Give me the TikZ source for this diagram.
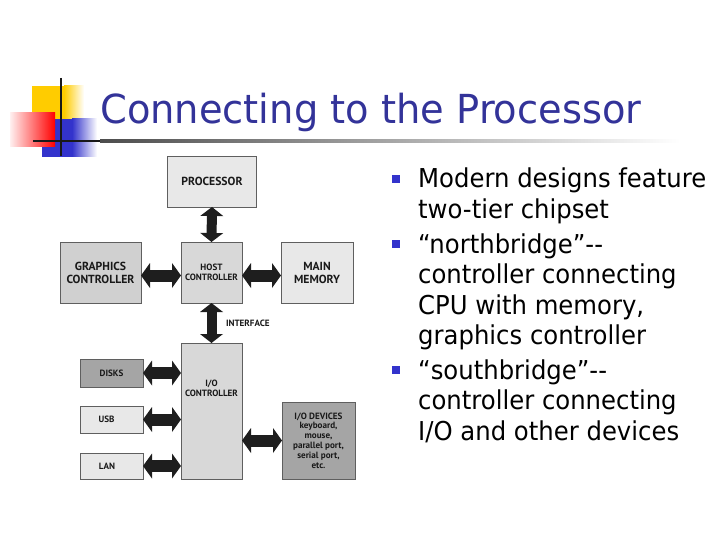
\documentclass[tikz,border=0pt]{standalone}
\usepackage{fontspec}
\setmainfont{DejaVu Sans}
\newfontfamily\titlefont[FakeStretch=0.96]{DejaVu Sans}
\newfontfamily\bodyfont[FakeStretch=0.936]{DejaVu Sans}
\newfontfamily\diafont{PT Sans}
\usetikzlibrary{arrows.meta}
\definecolor{titleblue}{RGB}{51,51,153}
\definecolor{bulletblue}{RGB}{51,51,204}
\definecolor{decoyellow}{RGB}{255,204,0}
\definecolor{decoblue}{RGB}{51,51,204}
\definecolor{decored}{RGB}{255,0,0}
\definecolor{arrowc}{RGB}{30,30,30}
\definecolor{boxline}{RGB}{95,95,95}
\definecolor{gA}{RGB}{232,232,232}
\definecolor{gB}{RGB}{216,216,216}
\definecolor{gC}{RGB}{208,208,208}
\definecolor{gD}{RGB}{165,165,165}
\newcommand\dgmbig{\diafont\bfseries\fontsize{11.7}{13}\selectfont}
\newcommand\dgmsmall{\diafont\bfseries\fontsize{9.1}{9.8}\selectfont}
\begin{document}
\begin{tikzpicture}[x=1pt,y=-1pt,
  box/.style={draw=boxline, line width=0.8pt, inner sep=0pt, outer sep=0pt, align=center, text=black!90},
  txt/.style={inner sep=0pt, outer sep=0pt, align=center, text=black!90},
  varrow/.style={draw=arrowc, line width=10pt, {Triangle[width=23pt,length=9pt,line width=0pt]}-{Triangle[width=23pt,length=9pt,line width=0pt]}},
  harrow/.style={draw=arrowc, line width=12pt, {Triangle[width=25pt,length=9pt,line width=0pt]}-{Triangle[width=25pt,length=9pt,line width=0pt]}},
  bodyline/.style={anchor=base west, inner sep=0pt, font=\bodyfont\fontsize{26}{30}\selectfont, text=black},
  bulletsq/.style={fill=bulletblue, inner sep=0pt, minimum size=8.5pt}
]
\useasboundingbox (0,0) rectangle (720,540);
% title decoration
\fill[decoyellow] (32,86) rectangle (64,119);
\shade[left color=decoyellow, right color=white] (64,86) rectangle (84,119);
\fill[decoblue] (42,119) rectangle (72,157);
\shade[left color=decoblue, right color=white] (72,119) rectangle (97,157);
\shade[left color=red!6, right color=decored] (10,113) rectangle (55,147);
\draw[line width=2.5pt, black!90] (61,78) -- (61,156);
\draw[line width=2.5pt, black!90] (33,141) -- (100,141);
\shade[left color=black!70, right color=white] (100,139.75) rectangle (680,142.25);
% title
\node[anchor=base west, inner sep=0pt, font=\titlefont\fontsize{40}{48}\selectfont, text=titleblue] (title) at (100,124) {Connecting to the Processor};
% diagram boxes
\node[box, fill=gA, minimum width=89pt, minimum height=51pt, font=\dgmbig] (proc) at (212,181.5) {PROCESSOR};
\node[box, fill=gB, minimum width=61pt, minimum height=61pt, font=\dgmsmall] (host) at (211.5,272.5) {HOST\\CONTROLLER};
\node[box, fill=gC, minimum width=81pt, minimum height=61pt, font=\dgmbig] (gfx) at (100.5,272.5) {GRAPHICS\\CONTROLLER};
\node[box, fill=gA, minimum width=72pt, minimum height=61pt, font=\dgmbig] (mem) at (317,272.5) {MAIN\\MEMORY};
\node[box, fill=gB, minimum width=61pt, minimum height=136pt] (ioc) at (211.5,411) {};
\node[txt, font=\dgmsmall] (ioctext) at (211.5,388) {I/O\\CONTROLLER};
\node[box, fill=gD, minimum width=63pt, minimum height=28pt, font=\dgmsmall] (disks) at (111.5,373) {DISKS};
\node[box, fill=gA, minimum width=63pt, minimum height=27pt, font=\dgmsmall] (usb) at (111.5,419.5) {USB\hspace{10pt}};
\node[box, fill=gA, minimum width=63pt, minimum height=26pt, font=\dgmsmall] (lan) at (111.5,466) {LAN\hspace{9pt}};
\node[box, fill=gD, minimum width=73pt, minimum height=77pt, font=\dgmsmall] (iodev) at (318.5,440.5) {I/O DEVICES\\keyboard,\\mouse,\\parallel port,\\serial port,\\etc.};
\node[txt, anchor=west, font=\dgmsmall] (iface) at (226,323) {INTERFACE};
% connectors
\draw[varrow] (proc.south) -- (host.north);
\draw[varrow] (host.south) -- (ioc.north);
\draw[harrow] ([yshift=-3pt]gfx.east) -- ([yshift=-3pt]host.west);
\draw[harrow] ([yshift=-3pt]host.east) -- ([yshift=-3pt]mem.west);
\draw[harrow] (disks.east) -- (disks.east -| ioc.west);
\draw[harrow] (usb.east) -- (usb.east -| ioc.west);
\draw[harrow] (lan.east) -- (lan.east -| ioc.west);
\draw[harrow] (iodev.west -| ioc.east) -- (iodev.west);
% bullets
\node[bulletsq] (b1) at (396,179) {};
\node[bulletsq] (b2) at (396,244) {};
\node[bulletsq] (b3) at (396,370) {};
\node[bodyline] (l1) at (418,188) {Modern designs feature};
\node[bodyline] (l2) at (418,218.5) {two-tier chipset};
\node[bodyline] (l3) at (418,253) {“northbridge”-{}-};
\node[bodyline] (l4) at (418,283.5) {controller connecting};
\node[bodyline] (l5) at (418,314) {CPU with memory,};
\node[bodyline] (l6) at (418,344.5) {graphics controller};
\node[bodyline] (l7) at (418,379) {“southbridge”-{}-};
\node[bodyline] (l8) at (418,409.5) {controller connecting};
\node[bodyline] (l9) at (418,440) {I/O and other devices};
\end{tikzpicture}
\end{document}
